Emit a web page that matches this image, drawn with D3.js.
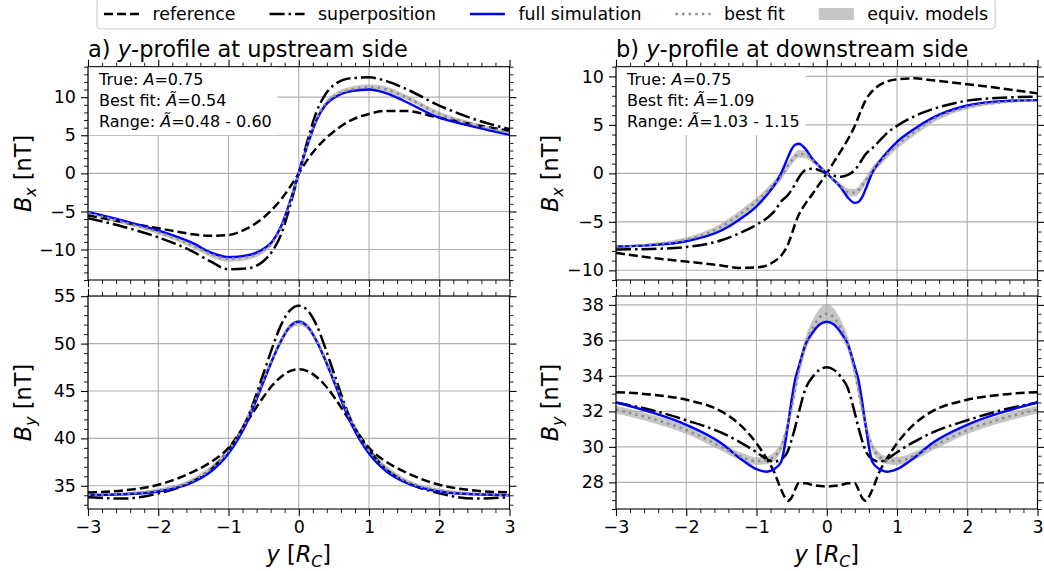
<!DOCTYPE html>
<html>
<head>
<meta charset="utf-8">
<script src="https://cdn.jsdelivr.net/npm/d3@7"></script>
<style>
  body { margin: 0; background: #fff; }
  svg { font-family: "DejaVu Sans", sans-serif; }
</style>
</head>
<body>
<div id="chart"></div>
<script>
// ---------------------------------------------------------------- data
// y positions [R_C] of the upstream profile samples
const y_up = [-3, -2.5, -2, -1.5, -1.25, -1, -0.75, -0.5, -0.375, -0.25, -0.125, 0,
              0.125, 0.25, 0.375, 0.5, 0.75, 1, 1.25, 1.5, 2, 2.5, 3]

// upstream B_x
const bx_up_ref = [-5.5, -6.4, -7.2, -8.0, -8.2, -8.1, -7.3, -5.8, -4.7, -3.4, -1.8, 0,
                   1.8, 3.3, 4.5, 5.5, 7.0, 7.8, 8.2, 8.2, 7.3, 6.4, 5.6]
const bx_up_sup = [-5.9, -7.0, -8.4, -10.3, -11.6, -12.6, -12.5, -11.5, -10.2, -8.0, -4.3, 0,
                   4.3, 8.0, 10.3, 11.6, 12.5, 12.6, 12.1, 11.2, 8.9, 7.1, 5.8]
const bx_up_sim = [-5.05, -6.2, -7.5, -9.2, -10.4, -11.0, -10.8, -9.9, -8.9, -6.9, -3.7, 0,
                   3.7, 6.9, 8.9, 9.9, 10.8, 11.0, 10.5, 9.5, 7.3, 6.1, 5.05]
const bx_up_fit = [-5.2, -6.4, -7.7, -9.5, -10.6, -11.2, -11.0, -10.1, -9.1, -7.1, -3.8, 0,
                   3.8, 7.1, 9.1, 10.1, 11.0, 11.3, 11.0, 10.1, 7.8, 6.4, 5.3]
const bx_up_spread = [0.2, 0.25, 0.3, 0.35, 0.4, 0.4, 0.4, 0.35, 0.3, 0.25, 0.2, 0.15,
                      0.2, 0.25, 0.3, 0.35, 0.4, 0.4, 0.4, 0.35, 0.3, 0.25, 0.2]

// upstream B_y
const by_up_ref = [34.3, 34.5, 35.1, 36.5, 37.5, 39.0, 41.6, 44.4, 45.6, 46.5, 47.1, 47.3,
                   47.1, 46.5, 45.6, 44.4, 41.6, 39.0, 37.5, 36.5, 35.1, 34.5, 34.3]
const by_up_sup = [33.8, 33.65, 34.2, 35.5, 36.7, 38.8, 41.8, 46.9, 49.6, 52.0, 53.5, 54.0,
                   53.5, 52.0, 49.6, 46.9, 41.8, 38.8, 36.7, 35.5, 34.2, 33.65, 33.8]
const by_up_sim = [34.0, 34.1, 34.4, 35.4, 36.5, 38.4, 41.5, 46.0, 48.3, 50.3, 51.8, 52.3,
                   51.8, 50.3, 48.3, 46.0, 41.5, 38.4, 36.5, 35.4, 34.4, 34.1, 34.0]
const by_up_fit = [34.05, 34.15, 34.5, 35.6, 36.8, 38.7, 41.8, 46.2, 48.4, 50.4, 51.8, 52.2,
                   51.8, 50.4, 48.4, 46.2, 41.8, 38.7, 36.8, 35.6, 34.5, 34.15, 34.05]
const by_up_spread = [0.12, 0.15, 0.2, 0.25, 0.3, 0.35, 0.4, 0.4, 0.35, 0.3, 0.3, 0.3,
                      0.3, 0.3, 0.35, 0.4, 0.4, 0.35, 0.3, 0.25, 0.2, 0.15, 0.12]

// y positions [R_C] of the downstream profile samples
const y_down = [-3, -2.5, -2, -1.5, -1.25, -1, -0.85, -0.75, -0.65, -0.55, -0.5, -0.45, -0.4,
                -0.3, -0.2, -0.1, 0, 0.1, 0.2, 0.3, 0.4, 0.45, 0.5, 0.55, 0.65, 0.75, 0.85,
                1, 1.25, 1.5, 2, 2.5, 3]

// downstream B_x
const bx_down_ref = [-8.2, -8.7, -9.1, -9.5, -9.75, -9.7, -9.5, -9.1, -8.5, -7.3, -6.3, -5.2, -4.3,
                     -3.1, -2.1, -1.05, 0, 1.15, 2.3, 3.5, 4.9, 5.8, 6.7, 7.5, 8.5, 9.1, 9.45,
                     9.7, 9.8, 9.6, 9.2, 8.75, 8.25]
const bx_down_sup = [-7.85, -7.8, -7.6, -6.9, -6.2, -5.3, -4.6, -3.95, -2.9, -2.2, -1.7, -1.1, -0.45,
                     0.35, 0.48, 0.3, 0, -0.25, -0.35, -0.15, 0.35, 0.8, 1.4, 1.95, 2.6, 3.35, 4.1,
                     4.9, 5.9, 6.6, 7.5, 7.8, 7.9]
const bx_down_sim = [-7.55, -7.4, -7.0, -5.9, -4.8, -3.4, -2.2, -1.25, 0, 1.7, 2.5, 2.95, 3.05,
                     2.5, 1.45, 0.7, 0, -0.7, -1.45, -2.5, -3.05, -2.95, -2.5, -1.7, 0.1, 1.2, 2.1,
                     3.25, 4.6, 5.7, 7.0, 7.45, 7.55]
const bx_down_fit = [-7.55, -7.35, -6.85, -5.5, -4.3, -2.9, -1.9, -1.1, -0.3, 0.8, 1.3, 1.75, 2.0,
                     1.95, 1.35, 0.7, 0, -0.7, -1.35, -1.95, -2.0, -1.75, -1.3, -0.8, 0.3, 1.1, 1.9,
                     2.9, 4.3, 5.5, 6.85, 7.35, 7.55]
const bx_down_spread = [0.1, 0.15, 0.25, 0.35, 0.4, 0.4, 0.4, 0.4, 0.4, 0.4, 0.4, 0.4, 0.4,
                        0.4, 0.3, 0.2, 0.1, 0.2, 0.3, 0.4, 0.4, 0.4, 0.4, 0.4, 0.4, 0.4, 0.4,
                        0.4, 0.4, 0.35, 0.25, 0.15, 0.1]

// downstream B_y
const by_down_ref = [33.08, 32.95, 32.65, 32.0, 31.3, 30.2, 29.3, 28.6, 27.6, 26.97, 27.15, 27.6, 27.95,
                     27.95, 27.85, 27.8, 27.77, 27.8, 27.85, 27.95, 27.95, 27.6, 27.15, 26.97, 27.6, 28.6, 29.3,
                     30.2, 31.3, 32.0, 32.65, 32.95, 33.08]
const by_down_sup = [32.5, 32.08, 31.5, 30.8, 30.3, 29.7, 29.3, 29.17, 29.3, 29.8, 30.4, 31.1, 31.9,
                     33.3, 33.95, 34.35, 34.49, 34.35, 33.95, 33.3, 31.9, 31.1, 30.4, 29.8, 29.3, 29.17, 29.3,
                     29.7, 30.3, 30.8, 31.5, 32.08, 32.5]
const by_down_sim = [32.5, 31.95, 31.24, 30.2, 29.4, 28.75, 28.6, 28.75, 29.15, 31.3, 32.65, 33.8, 34.5,
                     35.8, 36.45, 36.9, 37.05, 36.9, 36.45, 35.8, 34.5, 33.8, 32.65, 31.3, 29.15, 28.75, 28.6,
                     28.75, 29.4, 30.2, 31.24, 31.95, 32.5]
const by_down_fit = [32.1, 31.6, 30.95, 30.0, 29.5, 29.2, 29.25, 29.45, 30.0, 31.3, 32.2, 33.2, 34.2,
                     35.8, 36.7, 37.3, 37.5, 37.3, 36.7, 35.8, 34.2, 33.2, 32.2, 31.3, 30.0, 29.45, 29.25,
                     29.2, 29.5, 30.0, 30.95, 31.6, 32.1]
const by_down_spread = [0.22, 0.22, 0.22, 0.22, 0.22, 0.22, 0.22, 0.25, 0.25, 0.3, 0.3, 0.35, 0.35,
                        0.4, 0.45, 0.5, 0.55, 0.5, 0.45, 0.4, 0.35, 0.35, 0.3, 0.3, 0.25, 0.25, 0.22,
                        0.22, 0.22, 0.22, 0.22, 0.22, 0.22]

// model parameters written in the text boxes
const true_A = [0.75, 0.75]
const fit_A = [0.54, 1.09]
const range_A = [[0.48, 0.60], [1.03, 1.15]]

const titles = ['upstream', 'downstream']
const x_ticks = [-3, -2, -1, 0, 1, 2, 3]
const legend_labels = ['reference', 'superposition', 'full simulation', 'best fit', 'equiv. models']

// ---------------------------------------------------------------- layout
const fig_w = 1044, fig_h = 571
const cols = [{ left: 88, right: 509.5 }, { left: 616, right: 1037.5 }]
const rows = [{ top: 66.7, bottom: 280 }, { top: 296, bottom: 509 }]
const tick_fs = 17.5

const styles = {
    ref:  { stroke: '#000', width: 2.5, dash: '9,4' },
    sup:  { stroke: '#000', width: 2.5, dash: '15,4,2.5,4' },
    sim:  { stroke: '#0000ff', width: 2.4, dash: null },
    fit:  { stroke: '#8c8c8c', width: 2.5, dash: '2.5,4.1' },
    band: '#c6c6c6'
}

const svg = d3.select('#chart').append('svg')
    .attr('width', fig_w)
    .attr('height', fig_h)

// text with italic / subscript pieces (poor man's mathtext)
function rich(text, parts, size) {
    let shifted = 0
    parts.forEach(p => {
        const ts = text.append('tspan').text(p.t)
        if (p.it) ts.attr('font-style', 'italic')
        const want = p.sub ? size * 0.22 : 0
        if (want !== shifted) ts.attr('dy', want - shifted)
        if (p.sub) ts.attr('font-size', size * 0.7)
        shifted = want
    })
    return text
}

function minor_values(domain, step, majors) {
    const lo = Math.ceil(domain[0] / step - 1e-9) * step
    return d3.range(lo, domain[1] + 1e-9, step)
        .filter(v => !majors.some(m => Math.abs(m - v) < 1e-6))
}

function draw_panel(p, idx) {
    const col = cols[p.col], row = rows[p.row]
    const x = d3.scaleLinear().domain([-3, 3]).range([col.left, col.right])
    const y = d3.scaleLinear().domain(p.y_domain).range([row.bottom, row.top])
    const g = svg.append('g')

    const clip_id = 'clip' + idx
    svg.append('clipPath').attr('id', clip_id)
        .append('rect')
        .attr('x', col.left).attr('y', row.top)
        .attr('width', col.right - col.left).attr('height', row.bottom - row.top)

    const rows_data = p.ys.map((v, i) => ({
        y: v, ref: p.ref[i], sup: p.sup[i], sim: p.sim[i], fit: p.fit[i], s: p.spread[i]
    }))

    // equivalent models band
    g.append('path')
        .datum(rows_data)
        .attr('clip-path', `url(#${clip_id})`)
        .attr('fill', styles.band)
        .attr('d', d3.area()
            .curve(d3.curveMonotoneX)
            .x(d => x(d.y))
            .y0(d => y(d.fit - d.s))
            .y1(d => y(d.fit + d.s)))

    // grid
    const grid = g.append('g').attr('stroke', '#b0b0b0').attr('stroke-width', 1.1)
    grid.selectAll('.gx').data(x_ticks).join('line')
        .attr('x1', d => x(d)).attr('x2', d => x(d))
        .attr('y1', row.top).attr('y2', row.bottom)
    grid.selectAll('.gy').data(p.y_major).join('line')
        .attr('x1', col.left).attr('x2', col.right)
        .attr('y1', d => y(d)).attr('y2', d => y(d))

    // curves
    for (const key of ['ref', 'sup', 'sim', 'fit']) {
        const st = styles[key]
        g.append('path')
            .datum(rows_data)
            .attr('clip-path', `url(#${clip_id})`)
            .attr('fill', 'none')
            .attr('stroke', st.stroke)
            .attr('stroke-width', st.width)
            .attr('stroke-dasharray', st.dash)
            .attr('d', d3.line().curve(d3.curveMonotoneX).x(d => x(d.y)).y(d => y(d[key])))
    }

    // axes, ticks outward on all four sides
    const fmt = d3.format('d')
    const xmin = minor_values([-3, 3], 0.2, x_ticks)
    const ymin = minor_values(p.y_domain, p.y_minor, p.y_major)
    const axes = [
        [d3.axisBottom(x).tickValues(x_ticks), `translate(0,${row.bottom})`, p.row === 1],
        [d3.axisTop(x).tickValues(x_ticks), `translate(0,${row.top})`, false],
        [d3.axisLeft(y).tickValues(p.y_major), `translate(${col.left},0)`, true],
        [d3.axisRight(y).tickValues(p.y_major), `translate(${col.right},0)`, false]
    ]
    const minors = [
        [d3.axisBottom(x).tickValues(xmin), `translate(0,${row.bottom})`],
        [d3.axisTop(x).tickValues(xmin), `translate(0,${row.top})`],
        [d3.axisLeft(y).tickValues(ymin), `translate(${col.left},0)`],
        [d3.axisRight(y).tickValues(ymin), `translate(${col.right},0)`]
    ]
    axes.forEach(([ax, tr, labels]) => {
        const a = g.append('g').attr('transform', tr)
            .call(ax.tickSize(7).tickSizeOuter(0).tickPadding(5)
                .tickFormat(labels ? fmt : () => ''))
        a.select('.domain').remove()
        a.selectAll('line').attr('stroke-width', 1.1)
        a.selectAll('text').attr('font-size', tick_fs).attr('font-family', '"DejaVu Sans"').attr('fill', '#000')
    })
    minors.forEach(([ax, tr]) => {
        const a = g.append('g').attr('transform', tr)
            .call(ax.tickSize(4).tickSizeOuter(0).tickFormat(() => ''))
        a.select('.domain').remove()
        a.selectAll('line').attr('stroke-width', 0.9)
    })

    // frame
    g.append('rect')
        .attr('x', col.left).attr('y', row.top)
        .attr('width', col.right - col.left).attr('height', row.bottom - row.top)
        .attr('fill', 'none').attr('stroke', '#000').attr('stroke-width', 1.1)

    // y label
    rich(g.append('text')
        .attr('transform', `translate(${p.col === 0 ? 31 : 558},${(row.top + row.bottom) / 2}) rotate(-90)`)
        .attr('text-anchor', 'middle')
        .attr('font-size', 22.5),
        [{ t: 'B', it: true }, { t: p.comp, it: true, sub: true }, { t: ' [nT]' }], 22.5)

    // x label on bottom row
    if (p.row === 1) {
        rich(g.append('text')
            .attr('x', (col.left + col.right) / 2).attr('y', 562)
            .attr('text-anchor', 'middle')
            .attr('font-size', 22.5),
            [{ t: 'y', it: true }, { t: ' [' }, { t: 'R', it: true }, { t: 'C', it: true, sub: true }, { t: ']' }], 22.5)
    }

    // title and parameter box on top row
    if (p.row === 0) {
        rich(g.append('text')
            .attr('x', col.left).attr('y', 56.5)
            .attr('font-size', 22.5),
            [{ t: (p.col === 0 ? 'a) ' : 'b) ') }, { t: 'y', it: true }, { t: '-profile at ' + titles[p.col] + ' side' }], 22.5)

        const box = g.append('g')
        const fmt2 = d3.format('.2f')
        const lines = [
            [{ t: 'True: ' }, { t: 'A', it: true }, { t: '=' + fmt2(true_A[p.col]) }],
            [{ t: 'Best fit: ' }, { t: 'Ã', it: true }, { t: '=' + fmt2(fit_A[p.col]) }],
            [{ t: 'Range: ' }, { t: 'Ã', it: true },
             { t: '=' + fmt2(range_A[p.col][0]) + ' - ' + fmt2(range_A[p.col][1]) }]
        ]
        const bg = box.append('rect').attr('fill', '#fff')
        lines.forEach((ln, i) => {
            rich(box.append('text')
                .attr('x', col.left + 11).attr('y', 85 + i * 21)
                .attr('font-size', 16), ln, 16)
        })
        const bb = box.node().getBBox()
        bg.attr('x', col.left + 1).attr('y', row.top + 1)
            .attr('width', bb.x + bb.width + 6 - col.left - 1)
            .attr('height', bb.y + bb.height + 4 - row.top - 1)
    }
}

const panels = [
    { col: 0, row: 0, comp: 'x', ys: y_up, ref: bx_up_ref, sup: bx_up_sup, sim: bx_up_sim,
      fit: bx_up_fit, spread: bx_up_spread, y_domain: [-14, 14], y_major: [-10, -5, 0, 5, 10], y_minor: 1 },
    { col: 0, row: 1, comp: 'y', ys: y_up, ref: by_up_ref, sup: by_up_sup, sim: by_up_sim,
      fit: by_up_fit, spread: by_up_spread, y_domain: [32.55, 55.02], y_major: [35, 40, 45, 50, 55], y_minor: 1 },
    { col: 1, row: 0, comp: 'x', ys: y_down, ref: bx_down_ref, sup: bx_down_sup, sim: bx_down_sim,
      fit: bx_down_fit, spread: bx_down_spread, y_domain: [-11, 11], y_major: [-10, -5, 0, 5, 10], y_minor: 1 },
    { col: 1, row: 1, comp: 'y', ys: y_down, ref: by_down_ref, sup: by_down_sup, sim: by_down_sim,
      fit: by_down_fit, spread: by_down_spread, y_domain: [26.5, 38.5], y_major: [28, 30, 32, 34, 36, 38], y_minor: 0.5 }
]

panels.forEach(draw_panel)

// ---------------------------------------------------------------- legend
const leg = svg.append('g')
const leg_frame = leg.append('rect')
    .attr('fill', '#fff').attr('stroke', '#cccccc').attr('stroke-width', 1.1)
    .attr('rx', 4)
const keys = ['ref', 'sup', 'sim', 'fit', 'band']
let lx = 104
const ly = 14, fs = 17.4
legend_labels.forEach((label, i) => {
    const key = keys[i]
    if (key === 'band') {
        leg.append('rect').attr('x', lx).attr('y', ly - 6).attr('width', 35).attr('height', 12)
            .attr('fill', styles.band)
    } else {
        const st = styles[key]
        leg.append('line').attr('x1', lx).attr('x2', lx + 35).attr('y1', ly).attr('y2', ly)
            .attr('stroke', st.stroke).attr('stroke-width', st.width)
            .attr('stroke-dasharray', st.dash)
    }
    const t = leg.append('text').attr('x', lx + 35 + 13.5).attr('y', ly + 6)
        .attr('font-size', fs).text(label)
    lx += 35 + 13.5 + t.node().getComputedTextLength() + 34
})
leg_frame.attr('x', 97).attr('y', -2).attr('width', lx - 34 + 7 - 97).attr('height', 31)
</script>
</body>
</html>
